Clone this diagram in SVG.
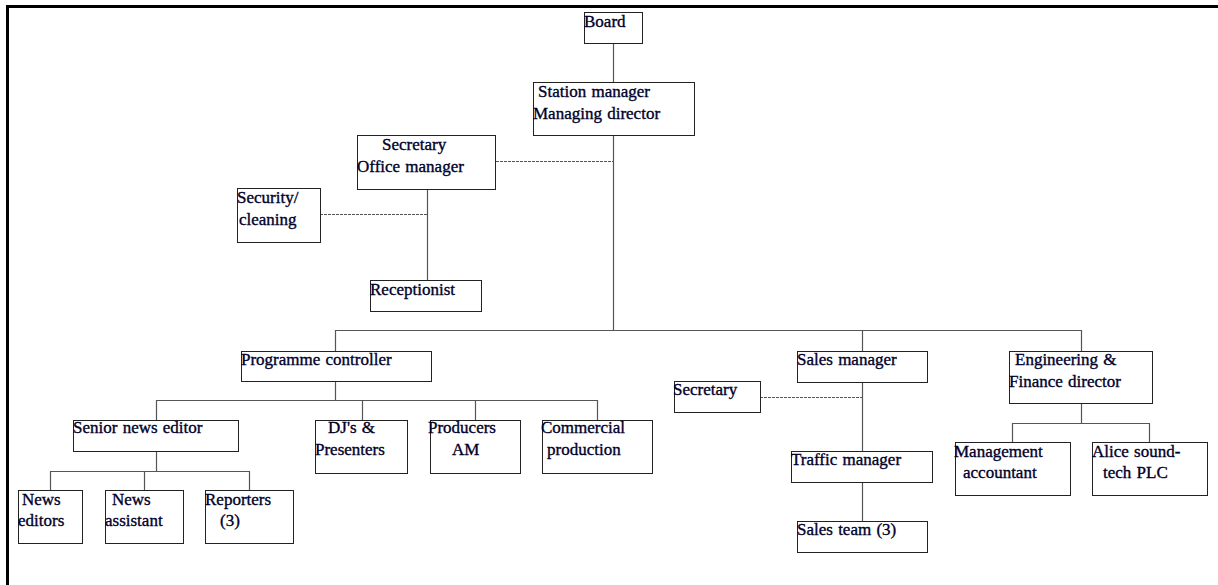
<svg xmlns="http://www.w3.org/2000/svg" width="1218" height="585" viewBox="0 0 1218 585">
<style>
.box{fill:#fff;stroke:#222;stroke-width:1}
.t{font-family:"Liberation Serif","Times New Roman",serif;font-size:17px;fill:#00002a;stroke:#00002a;stroke-width:0.35px;word-spacing:1px}
.ln{fill:none;stroke:#555;stroke-width:1.2}
.dl{fill:none;stroke:#555;stroke-width:1;stroke-dasharray:3 1}
</style>
<rect width="1218" height="585" fill="#fff"/>
<path d="M7.5 585V6.5H1218" fill="none" stroke="#000" stroke-width="3"/>
<g id="connectors">
<path class="ln" d="M613.5 43V82"/>
<path class="ln" d="M613.5 135V331"/>
<path class="dl" d="M496 161.5H613"/>
<path class="ln" d="M427.5 189V280"/>
<path class="dl" d="M320 214.5H427"/>
<path class="ln" d="M335.5 351V330.5H1081.5V351"/>
<path class="ln" d="M862.5 331V351"/>
<path class="ln" d="M335.5 381V400.5"/>
<path class="ln" d="M156.5 420V400.5H597.5V420"/>
<path class="ln" d="M362.5 400V420"/>
<path class="ln" d="M475.5 400V420"/>
<path class="ln" d="M156.5 451V471.5"/>
<path class="ln" d="M50.5 490V471.5H249.5V490"/>
<path class="ln" d="M144.5 471V490"/>
<path class="ln" d="M862.5 382V451"/>
<path class="dl" d="M760 397.5H862"/>
<path class="ln" d="M862.5 482V521"/>
<path class="ln" d="M1081.5 403V423.5"/>
<path class="ln" d="M1012.5 442V423.5H1149.5V442"/>
</g>
<g id="board"><rect class="box" x="584.5" y="12.5" width="58" height="31"/><text class="t" x="584" y="27">Board</text></g>
<g id="station-manager"><rect class="box" x="533.5" y="82.5" width="161" height="53"/><text class="t" x="538" y="97">Station manager</text><text class="t" x="533" y="119">Managing director</text></g>
<g id="secretary-office"><rect class="box" x="357.5" y="135.5" width="138" height="54"/><text class="t" x="382" y="150">Secretary</text><text class="t" x="357" y="172">Office manager</text></g>
<g id="security"><rect class="box" x="237.5" y="188.5" width="83" height="54"/><text class="t" x="237" y="203">Security/</text><text class="t" x="239" y="225">cleaning</text></g>
<g id="receptionist"><rect class="box" x="370.5" y="280.5" width="111" height="31"/><text class="t" x="370" y="295">Receptionist</text></g>
<g id="programme-controller"><rect class="box" x="241.5" y="351.5" width="190" height="30"/><text class="t" x="241" y="365">Programme controller</text></g>
<g id="senior-news-editor"><rect class="box" x="73.5" y="420.5" width="165" height="31"/><text class="t" x="73" y="433">Senior news editor</text></g>
<g id="djs"><rect class="box" x="315.5" y="420.5" width="92" height="53"/><text class="t" x="328" y="433">DJ's &amp;</text><text class="t" x="315" y="455">Presenters</text></g>
<g id="producers"><rect class="box" x="430.5" y="420.5" width="90" height="53"/><text class="t" x="428" y="433">Producers</text><text class="t" x="452" y="455">AM</text></g>
<g id="commercial"><rect class="box" x="542.5" y="420.5" width="110" height="53"/><text class="t" x="541" y="433">Commercial</text><text class="t" x="547" y="455">production</text></g>
<g id="news-editors"><rect class="box" x="18.5" y="490.5" width="64" height="53"/><text class="t" x="22" y="505">News</text><text class="t" x="18" y="526">editors</text></g>
<g id="news-assistant"><rect class="box" x="105.5" y="490.5" width="78" height="53"/><text class="t" x="112" y="505">News</text><text class="t" x="105" y="526">assistant</text></g>
<g id="reporters"><rect class="box" x="205.5" y="490.5" width="88" height="53"/><text class="t" x="205" y="505">Reporters</text><text class="t" x="220" y="526">(3)</text></g>
<g id="sales-manager"><rect class="box" x="797.5" y="351.5" width="130" height="31"/><text class="t" x="797" y="365">Sales manager</text></g>
<g id="sales-secretary"><rect class="box" x="674.5" y="381.5" width="86" height="31"/><text class="t" x="673" y="395">Secretary</text></g>
<g id="traffic-manager"><rect class="box" x="791.5" y="451.5" width="141" height="31"/><text class="t" x="791" y="465">Traffic manager</text></g>
<g id="sales-team"><rect class="box" x="797.5" y="521.5" width="130" height="31"/><text class="t" x="797" y="535">Sales team (3)</text></g>
<g id="engineering"><rect class="box" x="1009.5" y="351.5" width="143" height="52"/><text class="t" x="1015" y="365">Engineering &amp;</text><text class="t" x="1009" y="387">Finance director</text></g>
<g id="management-accountant"><rect class="box" x="955.5" y="442.5" width="115" height="53"/><text class="t" x="954" y="457">Management</text><text class="t" x="963" y="478">accountant</text></g>
<g id="alice"><rect class="box" x="1092.5" y="442.5" width="115" height="53"/><text class="t" x="1092" y="457">Alice sound-</text><text class="t" x="1103" y="478">tech PLC</text></g>
</svg>
